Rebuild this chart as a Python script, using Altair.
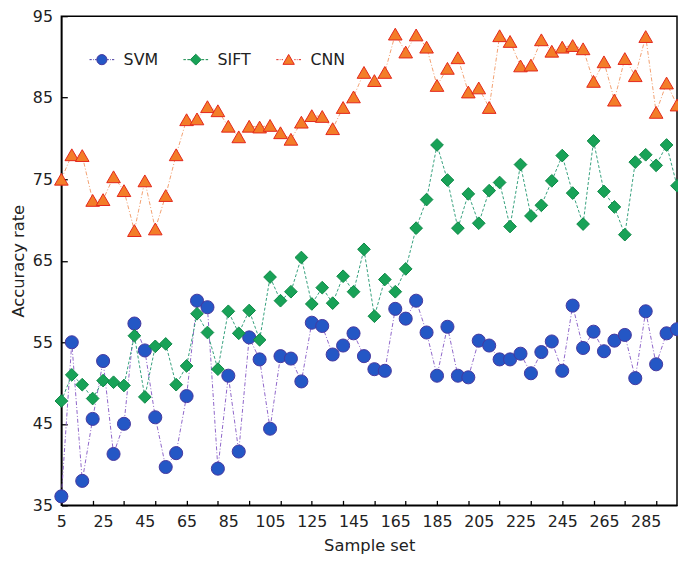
import altair as alt
import pandas as pd

# ---- data ----
x_vals = list(range(5, 301, 5))
series_names = ["SVM", "SIFT", "CNN"]

svm = [36.1, 55.0, 38.0, 45.6, 52.7, 41.3, 45.0, 57.3, 54.0, 45.8,
       39.7, 41.4, 48.4, 60.1, 59.3, 39.5, 50.9, 41.6, 55.6, 52.9,
       44.4, 53.3, 53.0, 50.2, 57.4, 57.0, 53.5, 54.6, 56.1, 53.3,
       51.7, 51.5, 59.1, 57.9, 60.1, 56.2, 50.9, 56.9, 50.9, 50.7,
       55.2, 54.6, 52.9, 52.9, 53.6, 51.2, 53.8, 55.1, 51.5, 59.5,
       54.3, 56.3, 53.9, 55.2, 55.9, 50.6, 58.8, 52.3, 56.1, 56.6]

sift = [47.8, 51.0, 49.8, 48.1, 50.3, 50.1, 49.7, 55.8, 48.3, 54.5,
        54.8, 49.8, 52.1, 58.5, 56.2, 51.7, 58.8, 56.1, 58.9, 55.3,
        63.0, 60.1, 61.2, 65.4, 59.7, 61.7, 59.8, 63.1, 61.2, 66.4,
        58.2, 62.7, 61.2, 64.0, 69.0, 72.5, 79.2, 74.9, 69.0, 73.2,
        69.6, 73.6, 74.6, 69.2, 76.8, 70.5, 71.8, 74.8, 77.9, 73.3,
        69.5, 79.7, 73.5, 71.6, 68.2, 77.1, 78.0, 76.7, 79.2, 74.2]

cnn = [75.0, 78.0, 77.9, 72.4, 72.5, 75.3, 73.6, 68.7, 74.8, 68.9,
       73.0, 78.0, 82.3, 82.4, 83.9, 83.4, 81.5, 80.2, 81.5, 81.4,
       81.6, 80.7, 79.9, 82.0, 82.8, 82.7, 81.2, 83.8, 85.1, 88.1,
       87.1, 88.1, 92.8, 90.6, 92.7, 91.2, 86.5, 88.6, 89.9, 85.7,
       86.2, 83.8, 92.6, 91.9, 88.9, 89.0, 92.1, 90.7, 91.2, 91.4,
       91.0, 87.0, 89.4, 84.7, 89.8, 87.7, 92.5, 83.2, 86.8, 84.1]

x_label_values = list(range(5, 286, 20))
x_tick_values = list(range(5, 291, 15))
y_values = list(range(35, 96, 10))

df = pd.DataFrame({
    "x": x_vals * 3,
    "value": svm + sift + cnn,
    "series": [s for s in series_names for _ in x_vals],
})

# ---- styling ----
FONT = "DejaVu Sans"
W, H = 623, 495
line_colors = {"SVM": "#8e66c9", "SIFT": "#34a07c", "CNN": "#f2a070"}
line_dash = {"SVM": [4, 2, 1, 2], "SIFT": [3, 2], "CNN": [4, 2, 1, 2]}
fills = {"SVM": "#2457c5", "SIFT": "#18a257", "CNN": "#f37d28"}
strokes = {"SVM": "#46389e", "SIFT": "#0d8746", "CNN": "#e3261b"}
shapes = {"SVM": "circle", "SIFT": "diamond", "CNN": "triangle-up"}
sizes = {"SVM": 175, "SIFT": 165, "CNN": 190}

legend_paths = [
    "M-1,0H-0.82M-0.72,0H-0.66M-0.56,0H-0.42M0.42,0H0.56M0.66,0H0.72M0.82,0H1"
    "M0.41,0A0.41,0.41 0 1 1 -0.41,0A0.41,0.41 0 1 1 0.41,0Z",
    "M-1,0H-0.8M-0.68,0H-0.46M0.46,0H0.68M0.8,0H1"
    "M0,-0.44L0.44,0L0,0.44L-0.44,0Z",
    "M-1,0H-0.82M-0.72,0H-0.66M-0.56,0H-0.46M0.46,0H0.56M0.66,0H0.72M0.82,0H1"
    "M0,-0.42L0.46,0.38L-0.46,0.38Z",
]

xscale = alt.Scale(domain=[5, 300], nice=False, zero=False)
yscale = alt.Scale(domain=[35, 95], nice=False, zero=False)

main_x_axis = alt.Axis(
    values=x_label_values, ticks=False, tickSize=0, grid=False,
    domainColor="black", domainWidth=1.5,
    labelFont=FONT, labelFontSize=16, labelColor="#222", labelPadding=8,
    labelFlush=False, labelOverlap=False,
    title="Sample set", titleFont=FONT, titleFontSize=16.5,
    titleFontWeight="normal", titleColor="#222", titlePadding=9,
)
# y axis: ticks point inward (negative size given as an expression)
main_y_axis = alt.Axis(
    values=y_values, ticks=True, tickSize={"expr": "-6"}, tickColor="black",
    tickWidth=1.3, grid=False,
    domainColor="black", domainWidth=1.5,
    labelFont=FONT, labelFontSize=16, labelColor="#222", labelPadding=15,
    labelFlush=False, labelOverlap=False,
    title="Accuracy rate", titleFont=FONT, titleFontSize=16.5,
    titleFontWeight="normal", titleColor="#222", titlePadding=6,
)
# x axis carrying only the inward ticks (every 15 units)
tick_x_axis = alt.Axis(
    orient="bottom", values=x_tick_values, labels=False,
    domain=False, grid=False, ticks=True, tickSize={"expr": "-5"},
    tickColor="black", tickWidth=1.3, title=None,
)

layers = []
axis_sets = [(main_x_axis, main_y_axis), (tick_x_axis, None), (None, None)]
for name, (xa, ya) in zip(series_names, axis_sets):
    layers.append(
        alt.Chart(df)
        .transform_filter(alt.datum.series == name)
        .mark_line(color=line_colors[name], strokeWidth=1, strokeDash=line_dash[name])
        .encode(
            x=alt.X("x:Q", scale=xscale, axis=xa),
            y=alt.Y("value:Q", scale=yscale, axis=ya),
        )
    )

for name in series_names:
    layers.append(
        alt.Chart(df)
        .transform_filter(alt.datum.series == name)
        .mark_point(shape=shapes[name], filled=True, fill=fills[name],
                    stroke=strokes[name], strokeWidth=1, size=sizes[name],
                    opacity=1)
        .encode(
            x=alt.X("x:Q", scale=xscale, axis=None),
            y=alt.Y("value:Q", scale=yscale, axis=None),
        )
    )

legend_def = alt.Legend(
    orient="none", legendX=28, legendY=31, direction="horizontal",
    title=None, symbolSize=625, symbolStrokeWidth=1, labelFont=FONT,
    labelFontSize=16, labelColor="#222", labelOffset=9, columnPadding=23,
    padding=0,
)
legend_layer = (
    alt.Chart(df)
    .transform_filter("false")
    .mark_point(filled=True, size=625, strokeWidth=1, opacity=1)
    .encode(
        shape=alt.Shape("series:N", scale=alt.Scale(domain=series_names, range=legend_paths), legend=legend_def),
        fill=alt.Fill("series:N", scale=alt.Scale(domain=series_names, range=[fills[s] for s in series_names]), legend=legend_def),
        stroke=alt.Stroke("series:N", scale=alt.Scale(domain=series_names, range=[strokes[s] for s in series_names]), legend=legend_def),
    )
)
layers.append(legend_layer)

chart = (
    alt.layer(*layers)
    .resolve_axis(x="independent", y="independent")
    .properties(
        width=W, height=H,
        autosize=alt.AutoSizeParams(type="none"),
        padding={"left": 54, "top": 5, "right": 1, "bottom": 48},
        background="white",
    )
    .configure_view(stroke="black", strokeWidth=1.5)
)

chart.save("out.html", embed_options={"renderer": "svg", "actions": False})
